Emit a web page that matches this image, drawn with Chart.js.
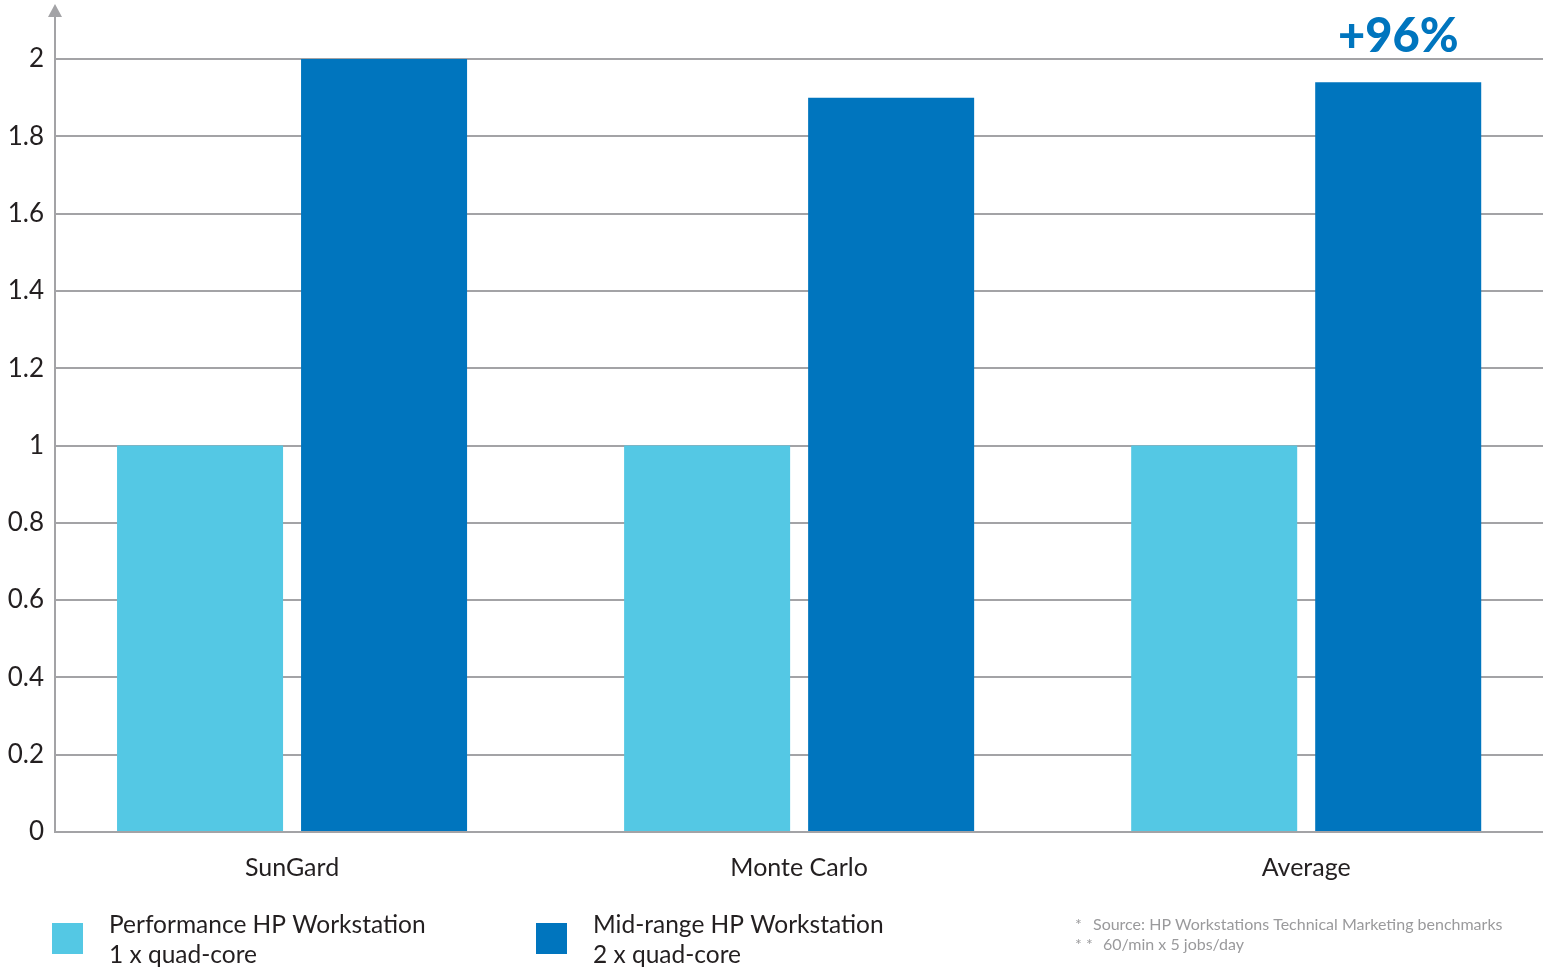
<!DOCTYPE html>
<html>
<head>
<meta charset="utf-8">
<script src="https://cdn.jsdelivr.net/npm/chart.js@4/dist/chart.umd.min.js"></script>
<style>
html,body{margin:0;padding:0;background:#fff;overflow:hidden;}
#wrap{position:relative;width:1552px;height:970px;}
</style>
</head>
<body>
<div id="wrap"><canvas id="c" width="1552" height="970"></canvas></div>
<script>
const categories = ['SunGard', 'Monte Carlo', 'Average'];
const seriesNames = [['Performance HP Workstation', '1 x quad-core'], ['Mid-range HP Workstation', '2 x quad-core']];
const performanceValues = [1, 1, 1];
const midrangeValues = [2.0, 1.9, 1.94];
const yTicks = [0, 0.2, 0.4, 0.6, 0.8, 1, 1.2, 1.4, 1.6, 1.8, 2];
const annotationText = '+96%';
const footnotes = [['*', 'Source: HP Workstations Technical Marketing benchmarks'], ['* *', '60/min x 5 jobs/day']];

const LIGHT = '#54C8E4';
const DARK = '#0075BE';
const GRID = '#a3a3a6';
const TEXT = '#231f20';
const FONT = 'Lato, "Open Sans", sans-serif';

const extras = {
  id: 'extras',
  afterDraw(chart) {
    const ctx = chart.ctx;
    const ax = chart.chartArea.left;
    ctx.save();
    // axis arrow
    ctx.strokeStyle = GRID; ctx.lineWidth = 2;
    ctx.beginPath(); ctx.moveTo(ax, chart.chartArea.top); ctx.lineTo(ax, 15); ctx.stroke();
    ctx.fillStyle = GRID;
    ctx.beginPath(); ctx.moveTo(ax, 4); ctx.lineTo(ax - 7, 17); ctx.lineTo(ax + 7, 17); ctx.closePath(); ctx.fill();
    // annotation above Average mid-range bar
    const bar = chart.getDatasetMeta(1).data[2];
    ctx.fillStyle = DARK;
    ctx.font = '900 47px ' + FONT;
    ctx.textAlign = 'center'; ctx.textBaseline = 'middle';
    ctx.fillText(annotationText, bar.x, 37);
    // legend
    const cols = [LIGHT, DARK];
    const lx = [52, 536];
    ctx.font = '24.5px ' + FONT;
    ctx.textAlign = 'left';
    for (let i = 0; i < 2; i++) {
      ctx.fillStyle = cols[i];
      ctx.fillRect(lx[i], 923, 31, 31);
      ctx.fillStyle = TEXT;
      ctx.fillText(seriesNames[i][0], lx[i] + 57, 925);
      ctx.fillText(seriesNames[i][1], lx[i] + 57, 955);
    }
    // footnotes
    ctx.fillStyle = '#9a9a9c';
    ctx.font = '16px ' + FONT;
    ctx.fillText(footnotes[0][0], 1075, 925);
    ctx.fillText(footnotes[0][1], 1093, 925);
    ctx.fillText(footnotes[1][0], 1075, 945);
    ctx.fillText(footnotes[1][1], 1103, 945);
    ctx.restore();
  }
};

new Chart(document.getElementById('c'), {
  type: 'bar',
  data: {
    datasets: [
      { label: seriesNames[0].join(' '), data: performanceValues.map((v, i) => ({ x: i, y: v })), backgroundColor: LIGHT, categoryPercentage: 0.7258, barPercentage: 0.9022 },
      { label: seriesNames[1].join(' '), data: midrangeValues.map((v, i) => ({ x: i, y: v })), backgroundColor: DARK, categoryPercentage: 0.7258, barPercentage: 0.9022 }
    ]
  },
  options: {
    responsive: false,
    animation: false,
    devicePixelRatio: 1,
    layout: { padding: { top: 59, right: 9, left: 0, bottom: 0 } },
    plugins: { legend: { display: false }, tooltip: { enabled: false } },
    scales: {
      x: {
        type: 'linear',
        offset: false,
        min: -0.4675,
        max: 2.467,
        afterBuildTicks: s => { s.ticks = categories.map((c, i) => ({ value: i })); },
        afterFit: s => { s.height = 138; },
        grid: { display: false },
        border: { display: false },
        ticks: { callback: v => categories[v], color: TEXT, font: { family: FONT, size: 25 }, padding: 13, maxRotation: 0, autoSkip: false }
      },
      y: {
        min: 0, max: 2,
        afterBuildTicks: s => { s.ticks = yTicks.map(v => ({ value: v })); },
        afterFit: s => { s.width = 55; },
        grid: { color: GRID, lineWidth: 2, drawTicks: false },
        border: { display: true, color: GRID, width: 2 },
        ticks: { callback: v => String(v), color: TEXT, font: { family: FONT, size: 26 }, padding: 11 }
      }
    }
  },
  plugins: [extras]
});
</script>
</body>
</html>
